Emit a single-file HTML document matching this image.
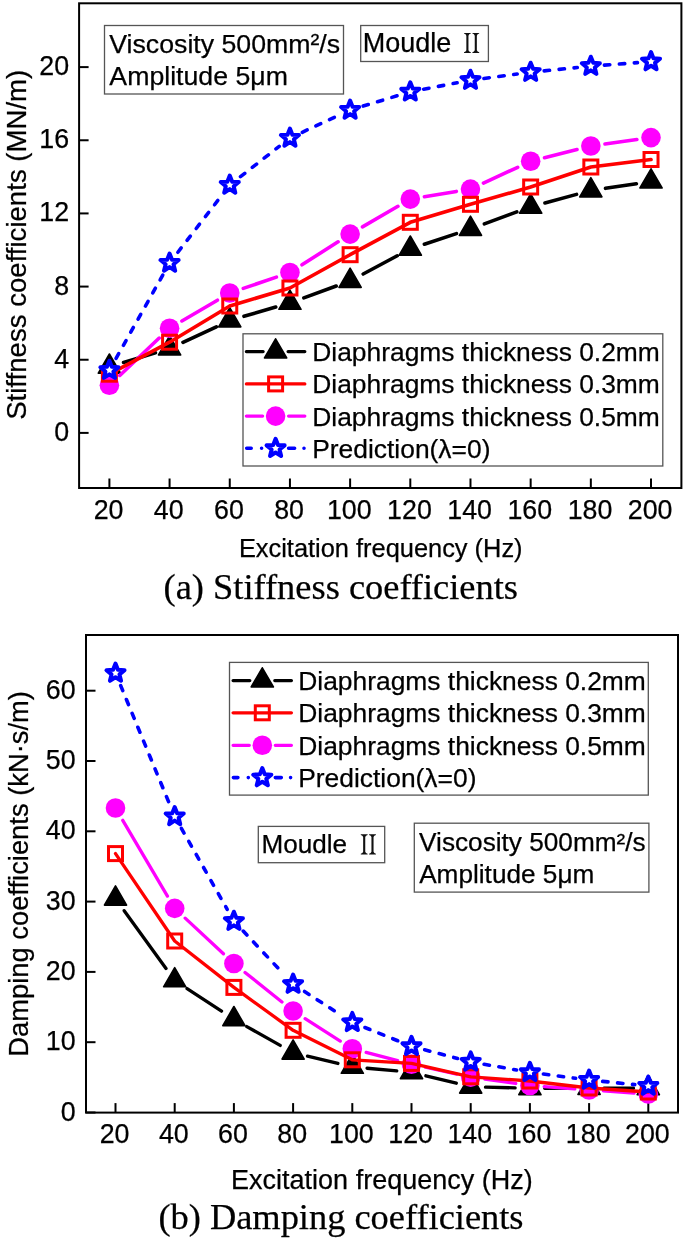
<!DOCTYPE html>
<html><head><meta charset="utf-8"><style>
html,body{margin:0;padding:0;background:#fff;}
svg{display:block;will-change:transform;}
text{fill:#000;stroke:#000;stroke-width:0.25px;}
</style></head><body>
<svg width="685" height="1240" viewBox="0 0 685 1240">
<rect width="685" height="1240" fill="#fff"/>
<rect x="79.1" y="3.3" width="602.3" height="484.7" fill="none" stroke="#000" stroke-width="2"/>
<line x1="79.1" y1="432.90" x2="88.6" y2="432.90" stroke="#000" stroke-width="2"/>
<text x="69.10" y="440.90" text-anchor="end" font-family='"Liberation Sans", sans-serif' font-size="26.8">0</text>
<line x1="79.1" y1="359.74" x2="88.6" y2="359.74" stroke="#000" stroke-width="2"/>
<text x="69.10" y="367.74" text-anchor="end" font-family='"Liberation Sans", sans-serif' font-size="26.8">4</text>
<line x1="79.1" y1="286.58" x2="88.6" y2="286.58" stroke="#000" stroke-width="2"/>
<text x="69.10" y="294.58" text-anchor="end" font-family='"Liberation Sans", sans-serif' font-size="26.8">8</text>
<line x1="79.1" y1="213.42" x2="88.6" y2="213.42" stroke="#000" stroke-width="2"/>
<text x="69.10" y="221.42" text-anchor="end" font-family='"Liberation Sans", sans-serif' font-size="26.8">12</text>
<line x1="79.1" y1="140.26" x2="88.6" y2="140.26" stroke="#000" stroke-width="2"/>
<text x="69.10" y="148.26" text-anchor="end" font-family='"Liberation Sans", sans-serif' font-size="26.8">16</text>
<line x1="79.1" y1="67.10" x2="88.6" y2="67.10" stroke="#000" stroke-width="2"/>
<text x="69.10" y="75.10" text-anchor="end" font-family='"Liberation Sans", sans-serif' font-size="26.8">20</text>
<line x1="109.40" y1="488" x2="109.40" y2="478.5" stroke="#000" stroke-width="2"/>
<text x="108.55" y="519.00" text-anchor="middle" font-family='"Liberation Sans", sans-serif' font-size="26.8">20</text>
<line x1="169.58" y1="488" x2="169.58" y2="478.5" stroke="#000" stroke-width="2"/>
<text x="168.73" y="519.00" text-anchor="middle" font-family='"Liberation Sans", sans-serif' font-size="26.8">40</text>
<line x1="229.76" y1="488" x2="229.76" y2="478.5" stroke="#000" stroke-width="2"/>
<text x="228.91" y="519.00" text-anchor="middle" font-family='"Liberation Sans", sans-serif' font-size="26.8">60</text>
<line x1="289.94" y1="488" x2="289.94" y2="478.5" stroke="#000" stroke-width="2"/>
<text x="289.09" y="519.00" text-anchor="middle" font-family='"Liberation Sans", sans-serif' font-size="26.8">80</text>
<line x1="350.12" y1="488" x2="350.12" y2="478.5" stroke="#000" stroke-width="2"/>
<text x="349.27" y="519.00" text-anchor="middle" font-family='"Liberation Sans", sans-serif' font-size="26.8">100</text>
<line x1="410.30" y1="488" x2="410.30" y2="478.5" stroke="#000" stroke-width="2"/>
<text x="409.45" y="519.00" text-anchor="middle" font-family='"Liberation Sans", sans-serif' font-size="26.8">120</text>
<line x1="470.48" y1="488" x2="470.48" y2="478.5" stroke="#000" stroke-width="2"/>
<text x="469.63" y="519.00" text-anchor="middle" font-family='"Liberation Sans", sans-serif' font-size="26.8">140</text>
<line x1="530.66" y1="488" x2="530.66" y2="478.5" stroke="#000" stroke-width="2"/>
<text x="529.81" y="519.00" text-anchor="middle" font-family='"Liberation Sans", sans-serif' font-size="26.8">160</text>
<line x1="590.84" y1="488" x2="590.84" y2="478.5" stroke="#000" stroke-width="2"/>
<text x="589.99" y="519.00" text-anchor="middle" font-family='"Liberation Sans", sans-serif' font-size="26.8">180</text>
<line x1="651.02" y1="488" x2="651.02" y2="478.5" stroke="#000" stroke-width="2"/>
<text x="650.17" y="519.00" text-anchor="middle" font-family='"Liberation Sans", sans-serif' font-size="26.8">200</text>
<text x="238.92" y="556.80" font-family='"Liberation Sans", sans-serif' font-size="25.4" >Excitation frequency (Hz)</text>
<text transform="translate(25.90,419.85) rotate(-90)" font-family='"Liberation Sans", sans-serif' font-size="27.6">Stiffness coefficients (MN/m)</text>
<text x="163.60" y="598.50" font-family='"Liberation Serif", serif' font-size="36.4" >(a) Stiffness coefficients</text>
<rect x="104.5" y="25.5" width="239" height="68.5" fill="#fff" stroke="#555" stroke-width="1.3"/>
<text x="109.28" y="52.60" font-family='"Liberation Sans", sans-serif' font-size="26.7" >Viscosity 500mm²/s</text>
<text x="109.35" y="85.00" font-family='"Liberation Sans", sans-serif' font-size="26.7" >Amplitude 5μm</text>
<rect x="360.7" y="25.5" width="127.7" height="36.0" fill="#fff" stroke="#555" stroke-width="1.3"/>
<text x="362.79" y="52.10" font-family='"Liberation Sans", sans-serif' font-size="27.0" >Moudle</text>
<path d="M464.00,32.90H470.80V33.62Q468.85,34.10 468.45,35.70V50.20Q468.85,51.80 470.80,52.28V53.00H464.00V52.28Q465.95,51.80 466.35,50.20V35.70Q465.95,34.10 464.00,33.62Z" fill="#111"/>
<path d="M472.40,32.90H479.20V33.62Q477.25,34.10 476.85,35.70V50.20Q477.25,51.80 479.20,52.28V53.00H472.40V52.28Q474.35,51.80 474.75,50.20V35.70Q474.35,34.10 472.40,33.62Z" fill="#111"/>
<path d="M123.57,362.52L155.41,352.88 M182.99,342.34L216.35,326.76 M243.96,316.35L275.74,307.05 M303.85,297.84L336.21,286.06 M363.17,274.02L397.25,255.78 M424.36,244.17L456.42,233.63 M484.37,223.88L516.77,211.92 M544.95,202.93L576.55,194.37 M605.48,188.33L636.38,183.77" fill="none" stroke="#000" stroke-width="3.6" stroke-linecap="round"/>
<polygon points="109.40,353.98 120.50,373.21 98.30,373.21" fill="#000" stroke="#000" stroke-width="1.6" stroke-linejoin="round"/>
<polygon points="169.58,335.78 180.68,355.01 158.48,355.01" fill="#000" stroke="#000" stroke-width="1.6" stroke-linejoin="round"/>
<polygon points="229.76,307.68 240.86,326.91 218.66,326.91" fill="#000" stroke="#000" stroke-width="1.6" stroke-linejoin="round"/>
<polygon points="289.94,290.08 301.04,309.31 278.84,309.31" fill="#000" stroke="#000" stroke-width="1.6" stroke-linejoin="round"/>
<polygon points="350.12,268.18 361.22,287.41 339.02,287.41" fill="#000" stroke="#000" stroke-width="1.6" stroke-linejoin="round"/>
<polygon points="410.30,235.98 421.40,255.21 399.20,255.21" fill="#000" stroke="#000" stroke-width="1.6" stroke-linejoin="round"/>
<polygon points="470.48,216.18 481.58,235.41 459.38,235.41" fill="#000" stroke="#000" stroke-width="1.6" stroke-linejoin="round"/>
<polygon points="530.66,193.98 541.76,213.21 519.56,213.21" fill="#000" stroke="#000" stroke-width="1.6" stroke-linejoin="round"/>
<polygon points="590.84,177.68 601.94,196.91 579.74,196.91" fill="#000" stroke="#000" stroke-width="1.6" stroke-linejoin="round"/>
<polygon points="651.02,168.78 662.12,188.01 639.92,188.01" fill="#000" stroke="#000" stroke-width="1.6" stroke-linejoin="round"/>
<path d="M119.77,375.46L159.21,338.04 M181.92,320.98L217.42,300.22 M243.30,288.39L276.40,277.11 M301.99,264.81L338.07,241.79 M362.48,226.91L397.94,206.29 M424.41,196.76L456.37,191.44 M483.46,183.10L517.68,167.30 M544.52,157.78L576.98,149.52 M605.00,144.02L636.86,139.58" fill="none" stroke="#f0f" stroke-width="3.6" stroke-linecap="round"/>
<circle cx="109.40" cy="385.30" r="9.80" fill="#f0f"/>
<circle cx="169.58" cy="328.20" r="9.80" fill="#f0f"/>
<circle cx="229.76" cy="293.00" r="9.80" fill="#f0f"/>
<circle cx="289.94" cy="272.50" r="9.80" fill="#f0f"/>
<circle cx="350.12" cy="234.10" r="9.80" fill="#f0f"/>
<circle cx="410.30" cy="199.10" r="9.80" fill="#f0f"/>
<circle cx="470.48" cy="189.10" r="9.80" fill="#f0f"/>
<circle cx="530.66" cy="161.30" r="9.80" fill="#f0f"/>
<circle cx="590.84" cy="146.00" r="9.80" fill="#f0f"/>
<circle cx="651.02" cy="137.60" r="9.80" fill="#f0f"/>
<path d="M109.40,374.20L169.58,342.20 M169.58,342.20L229.76,306.00 M229.76,306.00L289.94,288.00 M289.94,288.00L350.12,254.70 M350.12,254.70L410.30,222.30 M410.30,222.30L470.48,204.30 M470.48,204.30L530.66,187.00 M530.66,187.00L590.84,167.00 M590.84,167.00L651.02,159.50" fill="none" stroke="#f00" stroke-width="3.6" stroke-linecap="round"/>
<rect x="102.40" y="367.20" width="14.00" height="14.00" fill="none" stroke="#f00" stroke-width="3.0"/>
<rect x="162.58" y="335.20" width="14.00" height="14.00" fill="none" stroke="#f00" stroke-width="3.0"/>
<rect x="222.76" y="299.00" width="14.00" height="14.00" fill="none" stroke="#f00" stroke-width="3.0"/>
<rect x="282.94" y="281.00" width="14.00" height="14.00" fill="none" stroke="#f00" stroke-width="3.0"/>
<rect x="343.12" y="247.70" width="14.00" height="14.00" fill="none" stroke="#f00" stroke-width="3.0"/>
<rect x="403.30" y="215.30" width="14.00" height="14.00" fill="none" stroke="#f00" stroke-width="3.0"/>
<rect x="463.48" y="197.30" width="14.00" height="14.00" fill="none" stroke="#f00" stroke-width="3.0"/>
<rect x="523.66" y="180.00" width="14.00" height="14.00" fill="none" stroke="#f00" stroke-width="3.0"/>
<rect x="583.84" y="160.00" width="14.00" height="14.00" fill="none" stroke="#f00" stroke-width="3.0"/>
<rect x="644.02" y="152.50" width="14.00" height="14.00" fill="none" stroke="#f00" stroke-width="3.0"/>
<path d="M116.06,358.34L162.92,274.86" fill="none" stroke="#00f" stroke-width="3.6" stroke-linecap="round" stroke-dasharray="5.4 9.6"/>
<path d="M177.89,252.23L221.45,195.77" fill="none" stroke="#00f" stroke-width="3.6" stroke-linecap="round" stroke-dasharray="5.4 9.6"/>
<path d="M240.48,176.63L279.22,146.37" fill="none" stroke="#00f" stroke-width="3.6" stroke-linecap="round" stroke-dasharray="5.4 9.6"/>
<path d="M302.27,132.26L337.79,115.74" fill="none" stroke="#00f" stroke-width="3.6" stroke-linecap="round" stroke-dasharray="5.4 9.6"/>
<path d="M363.14,106.06L397.28,95.74" fill="none" stroke="#00f" stroke-width="3.6" stroke-linecap="round" stroke-dasharray="5.4 9.6"/>
<path d="M423.65,89.23L457.13,82.77" fill="none" stroke="#00f" stroke-width="3.6" stroke-linecap="round" stroke-dasharray="5.4 9.6"/>
<path d="M483.96,78.41L517.18,73.99" fill="none" stroke="#00f" stroke-width="3.6" stroke-linecap="round" stroke-dasharray="5.4 9.6"/>
<path d="M544.19,70.85L577.31,67.55" fill="none" stroke="#00f" stroke-width="3.6" stroke-linecap="round" stroke-dasharray="5.4 9.6"/>
<path d="M604.40,65.16L637.46,62.64" fill="none" stroke="#00f" stroke-width="3.6" stroke-linecap="round" stroke-dasharray="5.4 9.6"/>
<polygon points="109.40,360.70 111.84,366.84 118.44,367.26 113.35,371.48 114.98,377.89 109.40,374.35 103.82,377.89 105.45,371.48 100.36,367.26 106.96,366.84" fill="#fff" stroke="#00f" stroke-width="4.0" stroke-linejoin="round"/>
<polygon points="169.58,253.50 172.02,259.64 178.62,260.06 173.53,264.28 175.16,270.69 169.58,267.15 164.00,270.69 165.63,264.28 160.54,260.06 167.14,259.64" fill="#fff" stroke="#00f" stroke-width="4.0" stroke-linejoin="round"/>
<polygon points="229.76,175.50 232.20,181.64 238.80,182.06 233.71,186.28 235.34,192.69 229.76,189.15 224.18,192.69 225.81,186.28 220.72,182.06 227.32,181.64" fill="#fff" stroke="#00f" stroke-width="4.0" stroke-linejoin="round"/>
<polygon points="289.94,128.50 292.38,134.64 298.98,135.06 293.89,139.28 295.52,145.69 289.94,142.15 284.36,145.69 285.99,139.28 280.90,135.06 287.50,134.64" fill="#fff" stroke="#00f" stroke-width="4.0" stroke-linejoin="round"/>
<polygon points="350.12,100.50 352.56,106.64 359.16,107.06 354.07,111.28 355.70,117.69 350.12,114.15 344.54,117.69 346.17,111.28 341.08,107.06 347.68,106.64" fill="#fff" stroke="#00f" stroke-width="4.0" stroke-linejoin="round"/>
<polygon points="410.30,82.30 412.74,88.44 419.34,88.86 414.25,93.08 415.88,99.49 410.30,95.95 404.72,99.49 406.35,93.08 401.26,88.86 407.86,88.44" fill="#fff" stroke="#00f" stroke-width="4.0" stroke-linejoin="round"/>
<polygon points="470.48,70.70 472.92,76.84 479.52,77.26 474.43,81.48 476.06,87.89 470.48,84.35 464.90,87.89 466.53,81.48 461.44,77.26 468.04,76.84" fill="#fff" stroke="#00f" stroke-width="4.0" stroke-linejoin="round"/>
<polygon points="530.66,62.70 533.10,68.84 539.70,69.26 534.61,73.48 536.24,79.89 530.66,76.35 525.08,79.89 526.71,73.48 521.62,69.26 528.22,68.84" fill="#fff" stroke="#00f" stroke-width="4.0" stroke-linejoin="round"/>
<polygon points="590.84,56.70 593.28,62.84 599.88,63.26 594.79,67.48 596.42,73.89 590.84,70.35 585.26,73.89 586.89,67.48 581.80,63.26 588.40,62.84" fill="#fff" stroke="#00f" stroke-width="4.0" stroke-linejoin="round"/>
<polygon points="651.02,52.10 653.46,58.24 660.06,58.66 654.97,62.88 656.60,69.29 651.02,65.75 645.44,69.29 647.07,62.88 641.98,58.66 648.58,58.24" fill="#fff" stroke="#00f" stroke-width="4.0" stroke-linejoin="round"/>
<rect x="243" y="333.8" width="419.79999999999995" height="132.2" fill="#fff" stroke="#555" stroke-width="1.3"/>
<path d="M246.40,351.60L263.10,351.60M288.10,351.60L304.80,351.60" stroke="#000" stroke-width="3.3" stroke-linecap="round" fill="none"/>
<polygon points="275.60,338.78 286.70,358.01 264.50,358.01" fill="#000" stroke="#000" stroke-width="1.6" stroke-linejoin="round"/>
<text x="312.23" y="361.00" font-family='"Liberation Sans", sans-serif' font-size="26.4" >Diaphragms thickness 0.2mm</text>
<path d="M246.40,383.90L304.80,383.90" stroke="#f00" stroke-width="3.3" stroke-linecap="round" fill="none"/>
<rect x="268.60" y="376.90" width="14.00" height="14.00" fill="none" stroke="#f00" stroke-width="3.0"/>
<text x="312.23" y="393.30" font-family='"Liberation Sans", sans-serif' font-size="26.4" >Diaphragms thickness 0.3mm</text>
<path d="M246.40,416.10L262.60,416.10M288.60,416.10L304.80,416.10" stroke="#f0f" stroke-width="3.3" stroke-linecap="round" fill="none"/>
<circle cx="275.60" cy="416.10" r="9.80" fill="#f0f"/>
<text x="312.23" y="425.50" font-family='"Liberation Sans", sans-serif' font-size="26.4" >Diaphragms thickness 0.5mm</text>
<path d="M246.70,448.30L251.20,448.30M261.60,448.30L261.60,448.30M288.60,448.30L294.60,448.30M304.00,448.30L304.00,448.30" stroke="#00f" stroke-width="3.6" stroke-linecap="round" fill="none"/>
<polygon points="275.60,438.80 278.04,444.94 284.64,445.36 279.55,449.58 281.18,455.99 275.60,452.45 270.02,455.99 271.65,449.58 266.56,445.36 273.16,444.94" fill="#fff" stroke="#00f" stroke-width="4.0" stroke-linejoin="round"/>
<text x="312.23" y="457.70" font-family='"Liberation Sans", sans-serif' font-size="26.4" >Prediction(λ=0)</text>
<rect x="86" y="635" width="592.0" height="477.5999999999999" fill="none" stroke="#000" stroke-width="2"/>
<line x1="86" y1="1112.50" x2="95.5" y2="1112.50" stroke="#000" stroke-width="2"/>
<text x="75.60" y="1120.60" text-anchor="end" font-family='"Liberation Sans", sans-serif' font-size="26.8">0</text>
<line x1="86" y1="1042.20" x2="95.5" y2="1042.20" stroke="#000" stroke-width="2"/>
<text x="75.60" y="1050.30" text-anchor="end" font-family='"Liberation Sans", sans-serif' font-size="26.8">10</text>
<line x1="86" y1="971.90" x2="95.5" y2="971.90" stroke="#000" stroke-width="2"/>
<text x="75.60" y="980.00" text-anchor="end" font-family='"Liberation Sans", sans-serif' font-size="26.8">20</text>
<line x1="86" y1="901.60" x2="95.5" y2="901.60" stroke="#000" stroke-width="2"/>
<text x="75.60" y="909.70" text-anchor="end" font-family='"Liberation Sans", sans-serif' font-size="26.8">30</text>
<line x1="86" y1="831.30" x2="95.5" y2="831.30" stroke="#000" stroke-width="2"/>
<text x="75.60" y="839.40" text-anchor="end" font-family='"Liberation Sans", sans-serif' font-size="26.8">40</text>
<line x1="86" y1="761.00" x2="95.5" y2="761.00" stroke="#000" stroke-width="2"/>
<text x="75.60" y="769.10" text-anchor="end" font-family='"Liberation Sans", sans-serif' font-size="26.8">50</text>
<line x1="86" y1="690.70" x2="95.5" y2="690.70" stroke="#000" stroke-width="2"/>
<text x="75.60" y="698.80" text-anchor="end" font-family='"Liberation Sans", sans-serif' font-size="26.8">60</text>
<line x1="115.50" y1="1112.6" x2="115.50" y2="1103.1" stroke="#000" stroke-width="2"/>
<text x="114.60" y="1142.90" text-anchor="middle" font-family='"Liberation Sans", sans-serif' font-size="26.8">20</text>
<line x1="174.70" y1="1112.6" x2="174.70" y2="1103.1" stroke="#000" stroke-width="2"/>
<text x="173.80" y="1142.90" text-anchor="middle" font-family='"Liberation Sans", sans-serif' font-size="26.8">40</text>
<line x1="233.90" y1="1112.6" x2="233.90" y2="1103.1" stroke="#000" stroke-width="2"/>
<text x="233.00" y="1142.90" text-anchor="middle" font-family='"Liberation Sans", sans-serif' font-size="26.8">60</text>
<line x1="293.10" y1="1112.6" x2="293.10" y2="1103.1" stroke="#000" stroke-width="2"/>
<text x="292.20" y="1142.90" text-anchor="middle" font-family='"Liberation Sans", sans-serif' font-size="26.8">80</text>
<line x1="352.30" y1="1112.6" x2="352.30" y2="1103.1" stroke="#000" stroke-width="2"/>
<text x="351.40" y="1142.90" text-anchor="middle" font-family='"Liberation Sans", sans-serif' font-size="26.8">100</text>
<line x1="411.50" y1="1112.6" x2="411.50" y2="1103.1" stroke="#000" stroke-width="2"/>
<text x="410.60" y="1142.90" text-anchor="middle" font-family='"Liberation Sans", sans-serif' font-size="26.8">120</text>
<line x1="470.70" y1="1112.6" x2="470.70" y2="1103.1" stroke="#000" stroke-width="2"/>
<text x="469.80" y="1142.90" text-anchor="middle" font-family='"Liberation Sans", sans-serif' font-size="26.8">140</text>
<line x1="529.90" y1="1112.6" x2="529.90" y2="1103.1" stroke="#000" stroke-width="2"/>
<text x="529.00" y="1142.90" text-anchor="middle" font-family='"Liberation Sans", sans-serif' font-size="26.8">160</text>
<line x1="589.10" y1="1112.6" x2="589.10" y2="1103.1" stroke="#000" stroke-width="2"/>
<text x="588.20" y="1142.90" text-anchor="middle" font-family='"Liberation Sans", sans-serif' font-size="26.8">180</text>
<line x1="648.30" y1="1112.6" x2="648.30" y2="1103.1" stroke="#000" stroke-width="2"/>
<text x="647.40" y="1142.90" text-anchor="middle" font-family='"Liberation Sans", sans-serif' font-size="26.8">200</text>
<text x="231.09" y="1188.70" font-family='"Liberation Sans", sans-serif' font-size="27.0" >Excitation frequency (Hz)</text>
<text transform="translate(28.40,1056.74) rotate(-90)" font-family='"Liberation Sans", sans-serif' font-size="27.35">Damping coefficients (kN·s/m)</text>
<text x="158.40" y="1229.20" font-family='"Liberation Serif", serif' font-size="36.4" >(b) Damping coefficients</text>
<path d="M124.18,910.68L166.02,968.42 M187.07,988.53L221.53,1011.17 M246.79,1026.57L280.21,1045.43 M307.49,1056.15L337.91,1063.45 M367.04,1068.24L396.76,1070.96 M425.88,1075.80L456.32,1083.20 M485.49,1087.10L515.11,1087.90 M544.70,1088.23L574.30,1088.07 M603.90,1088.07L633.50,1088.23" fill="none" stroke="#000" stroke-width="3.3" stroke-linecap="round"/>
<polygon points="115.50,885.88 126.60,905.11 104.40,905.11" fill="#000" stroke="#000" stroke-width="1.6" stroke-linejoin="round"/>
<polygon points="174.70,967.58 185.80,986.81 163.60,986.81" fill="#000" stroke="#000" stroke-width="1.6" stroke-linejoin="round"/>
<polygon points="233.90,1006.48 245.00,1025.71 222.80,1025.71" fill="#000" stroke="#000" stroke-width="1.6" stroke-linejoin="round"/>
<polygon points="293.10,1039.88 304.20,1059.11 282.00,1059.11" fill="#000" stroke="#000" stroke-width="1.6" stroke-linejoin="round"/>
<polygon points="352.30,1054.08 363.40,1073.31 341.20,1073.31" fill="#000" stroke="#000" stroke-width="1.6" stroke-linejoin="round"/>
<polygon points="411.50,1059.48 422.60,1078.71 400.40,1078.71" fill="#000" stroke="#000" stroke-width="1.6" stroke-linejoin="round"/>
<polygon points="470.70,1073.88 481.80,1093.11 459.60,1093.11" fill="#000" stroke="#000" stroke-width="1.6" stroke-linejoin="round"/>
<polygon points="529.90,1075.48 541.00,1094.71 518.80,1094.71" fill="#000" stroke="#000" stroke-width="1.6" stroke-linejoin="round"/>
<polygon points="589.10,1075.18 600.20,1094.41 578.00,1094.41" fill="#000" stroke="#000" stroke-width="1.6" stroke-linejoin="round"/>
<polygon points="648.30,1075.48 659.40,1094.71 637.20,1094.71" fill="#000" stroke="#000" stroke-width="1.6" stroke-linejoin="round"/>
<path d="M122.76,820.32L167.44,896.08 M185.17,918.14L223.43,953.76 M245.05,972.45L281.95,1002.05 M305.15,1018.70L340.25,1041.10 M366.14,1052.40L397.66,1060.60 M425.47,1067.24L456.73,1074.06 M484.86,1079.11L515.74,1083.49 M544.16,1086.58L574.84,1088.92 M603.37,1090.96L634.03,1093.04" fill="none" stroke="#f0f" stroke-width="3.3" stroke-linecap="round"/>
<circle cx="115.50" cy="808.00" r="9.80" fill="#f0f"/>
<circle cx="174.70" cy="908.40" r="9.80" fill="#f0f"/>
<circle cx="233.90" cy="963.50" r="9.80" fill="#f0f"/>
<circle cx="293.10" cy="1011.00" r="9.80" fill="#f0f"/>
<circle cx="352.30" cy="1048.80" r="9.80" fill="#f0f"/>
<circle cx="411.50" cy="1064.20" r="9.80" fill="#f0f"/>
<circle cx="470.70" cy="1077.10" r="9.80" fill="#f0f"/>
<circle cx="529.90" cy="1085.50" r="9.80" fill="#f0f"/>
<circle cx="589.10" cy="1090.00" r="9.80" fill="#f0f"/>
<circle cx="648.30" cy="1094.00" r="9.80" fill="#f0f"/>
<path d="M115.50,853.60L174.70,941.00 M174.70,941.00L233.90,987.40 M233.90,987.40L293.10,1030.30 M293.10,1030.30L352.30,1059.80 M352.30,1059.80L411.50,1063.40 M411.50,1063.40L470.70,1076.80 M470.70,1076.80L529.90,1081.00 M529.90,1081.00L589.10,1088.00 M589.10,1088.00L648.30,1092.00" fill="none" stroke="#f00" stroke-width="3.3" stroke-linecap="round"/>
<rect x="108.50" y="846.60" width="14.00" height="14.00" fill="none" stroke="#f00" stroke-width="3.0"/>
<rect x="167.70" y="934.00" width="14.00" height="14.00" fill="none" stroke="#f00" stroke-width="3.0"/>
<rect x="226.90" y="980.40" width="14.00" height="14.00" fill="none" stroke="#f00" stroke-width="3.0"/>
<rect x="286.10" y="1023.30" width="14.00" height="14.00" fill="none" stroke="#f00" stroke-width="3.0"/>
<rect x="345.30" y="1052.80" width="14.00" height="14.00" fill="none" stroke="#f00" stroke-width="3.0"/>
<rect x="404.50" y="1056.40" width="14.00" height="14.00" fill="none" stroke="#f00" stroke-width="3.0"/>
<rect x="463.70" y="1069.80" width="14.00" height="14.00" fill="none" stroke="#f00" stroke-width="3.0"/>
<rect x="522.90" y="1074.00" width="14.00" height="14.00" fill="none" stroke="#f00" stroke-width="3.0"/>
<rect x="582.10" y="1081.00" width="14.00" height="14.00" fill="none" stroke="#f00" stroke-width="3.0"/>
<rect x="641.30" y="1085.00" width="14.00" height="14.00" fill="none" stroke="#f00" stroke-width="3.0"/>
<path d="M120.69,685.67L169.51,803.93" fill="none" stroke="#00f" stroke-width="3.6" stroke-linecap="round" stroke-dasharray="5.4 9.6"/>
<path d="M181.39,828.34L227.21,909.36" fill="none" stroke="#00f" stroke-width="3.6" stroke-linecap="round" stroke-dasharray="5.4 9.6"/>
<path d="M243.22,931.10L283.78,974.20" fill="none" stroke="#00f" stroke-width="3.6" stroke-linecap="round" stroke-dasharray="5.4 9.6"/>
<path d="M304.52,991.49L340.88,1015.01" fill="none" stroke="#00f" stroke-width="3.6" stroke-linecap="round" stroke-dasharray="5.4 9.6"/>
<path d="M364.91,1027.49L398.89,1041.21" fill="none" stroke="#00f" stroke-width="3.6" stroke-linecap="round" stroke-dasharray="5.4 9.6"/>
<path d="M424.65,1049.77L457.55,1058.43" fill="none" stroke="#00f" stroke-width="3.6" stroke-linecap="round" stroke-dasharray="5.4 9.6"/>
<path d="M484.09,1064.25L516.51,1069.95" fill="none" stroke="#00f" stroke-width="3.6" stroke-linecap="round" stroke-dasharray="5.4 9.6"/>
<path d="M543.39,1074.05L575.61,1078.25" fill="none" stroke="#00f" stroke-width="3.6" stroke-linecap="round" stroke-dasharray="5.4 9.6"/>
<path d="M602.63,1081.37L634.77,1084.63" fill="none" stroke="#00f" stroke-width="3.6" stroke-linecap="round" stroke-dasharray="5.4 9.6"/>
<polygon points="115.50,663.60 117.94,669.74 124.54,670.16 119.45,674.38 121.08,680.79 115.50,677.25 109.92,680.79 111.55,674.38 106.46,670.16 113.06,669.74" fill="#fff" stroke="#00f" stroke-width="4.0" stroke-linejoin="round"/>
<polygon points="174.70,807.00 177.14,813.14 183.74,813.56 178.65,817.78 180.28,824.19 174.70,820.65 169.12,824.19 170.75,817.78 165.66,813.56 172.26,813.14" fill="#fff" stroke="#00f" stroke-width="4.0" stroke-linejoin="round"/>
<polygon points="233.90,911.70 236.34,917.84 242.94,918.26 237.85,922.48 239.48,928.89 233.90,925.35 228.32,928.89 229.95,922.48 224.86,918.26 231.46,917.84" fill="#fff" stroke="#00f" stroke-width="4.0" stroke-linejoin="round"/>
<polygon points="293.10,974.60 295.54,980.74 302.14,981.16 297.05,985.38 298.68,991.79 293.10,988.25 287.52,991.79 289.15,985.38 284.06,981.16 290.66,980.74" fill="#fff" stroke="#00f" stroke-width="4.0" stroke-linejoin="round"/>
<polygon points="352.30,1012.90 354.74,1019.04 361.34,1019.46 356.25,1023.68 357.88,1030.09 352.30,1026.55 346.72,1030.09 348.35,1023.68 343.26,1019.46 349.86,1019.04" fill="#fff" stroke="#00f" stroke-width="4.0" stroke-linejoin="round"/>
<polygon points="411.50,1036.80 413.94,1042.94 420.54,1043.36 415.45,1047.58 417.08,1053.99 411.50,1050.45 405.92,1053.99 407.55,1047.58 402.46,1043.36 409.06,1042.94" fill="#fff" stroke="#00f" stroke-width="4.0" stroke-linejoin="round"/>
<polygon points="470.70,1052.40 473.14,1058.54 479.74,1058.96 474.65,1063.18 476.28,1069.59 470.70,1066.05 465.12,1069.59 466.75,1063.18 461.66,1058.96 468.26,1058.54" fill="#fff" stroke="#00f" stroke-width="4.0" stroke-linejoin="round"/>
<polygon points="529.90,1062.80 532.34,1068.94 538.94,1069.36 533.85,1073.58 535.48,1079.99 529.90,1076.45 524.32,1079.99 525.95,1073.58 520.86,1069.36 527.46,1068.94" fill="#fff" stroke="#00f" stroke-width="4.0" stroke-linejoin="round"/>
<polygon points="589.10,1070.50 591.54,1076.64 598.14,1077.06 593.05,1081.28 594.68,1087.69 589.10,1084.15 583.52,1087.69 585.15,1081.28 580.06,1077.06 586.66,1076.64" fill="#fff" stroke="#00f" stroke-width="4.0" stroke-linejoin="round"/>
<polygon points="648.30,1076.50 650.74,1082.64 657.34,1083.06 652.25,1087.28 653.88,1093.69 648.30,1090.15 642.72,1093.69 644.35,1087.28 639.26,1083.06 645.86,1082.64" fill="#fff" stroke="#00f" stroke-width="4.0" stroke-linejoin="round"/>
<rect x="229.5" y="662.4" width="418.79999999999995" height="132.70000000000005" fill="#fff" stroke="#555" stroke-width="1.3"/>
<path d="M233.10,680.60L249.80,680.60M274.80,680.60L291.40,680.60" stroke="#000" stroke-width="3.3" stroke-linecap="round" fill="none"/>
<polygon points="262.30,667.78 273.40,687.01 251.20,687.01" fill="#000" stroke="#000" stroke-width="1.6" stroke-linejoin="round"/>
<text x="298.23" y="690.00" font-family='"Liberation Sans", sans-serif' font-size="26.4" >Diaphragms thickness 0.2mm</text>
<path d="M233.10,712.80L291.40,712.80" stroke="#f00" stroke-width="3.3" stroke-linecap="round" fill="none"/>
<rect x="255.30" y="705.80" width="14.00" height="14.00" fill="none" stroke="#f00" stroke-width="3.0"/>
<text x="298.23" y="722.20" font-family='"Liberation Sans", sans-serif' font-size="26.4" >Diaphragms thickness 0.3mm</text>
<path d="M233.10,745.30L249.30,745.30M275.30,745.30L291.40,745.30" stroke="#f0f" stroke-width="3.3" stroke-linecap="round" fill="none"/>
<circle cx="262.30" cy="745.30" r="9.80" fill="#f0f"/>
<text x="298.23" y="754.70" font-family='"Liberation Sans", sans-serif' font-size="26.4" >Diaphragms thickness 0.5mm</text>
<path d="M233.40,777.60L237.90,777.60M248.30,777.60L248.30,777.60M275.30,777.60L281.30,777.60M290.60,777.60L290.60,777.60" stroke="#00f" stroke-width="3.6" stroke-linecap="round" fill="none"/>
<polygon points="262.30,768.10 264.74,774.24 271.34,774.66 266.25,778.88 267.88,785.29 262.30,781.75 256.72,785.29 258.35,778.88 253.26,774.66 259.86,774.24" fill="#fff" stroke="#00f" stroke-width="4.0" stroke-linejoin="round"/>
<text x="298.23" y="787.00" font-family='"Liberation Sans", sans-serif' font-size="26.4" >Prediction(λ=0)</text>
<rect x="258.3" y="826.4" width="126.4" height="36.3" fill="#fff" stroke="#555" stroke-width="1.3"/>
<text x="261.56" y="853.40" font-family='"Liberation Sans", sans-serif' font-size="26.1" >Moudle</text>
<path d="M360.80,834.30H367.60V835.02Q365.65,835.50 365.25,837.10V851.70Q365.65,853.30 367.60,853.78V854.50H360.80V853.78Q362.75,853.30 363.15,851.70V837.10Q362.75,835.50 360.80,835.02Z" fill="#111"/>
<path d="M369.10,834.30H375.90V835.02Q373.95,835.50 373.55,837.10V851.70Q373.95,853.30 375.90,853.78V854.50H369.10V853.78Q371.05,853.30 371.45,851.70V837.10Q371.05,835.50 369.10,835.02Z" fill="#111"/>
<rect x="414.3" y="823.2" width="234.6" height="68.9" fill="#fff" stroke="#555" stroke-width="1.3"/>
<text x="419.08" y="851.00" font-family='"Liberation Sans", sans-serif' font-size="26.2" >Viscosity 500mm²/s</text>
<text x="419.15" y="883.00" font-family='"Liberation Sans", sans-serif' font-size="26.2" >Amplitude 5μm</text>
</svg>
</body></html>
